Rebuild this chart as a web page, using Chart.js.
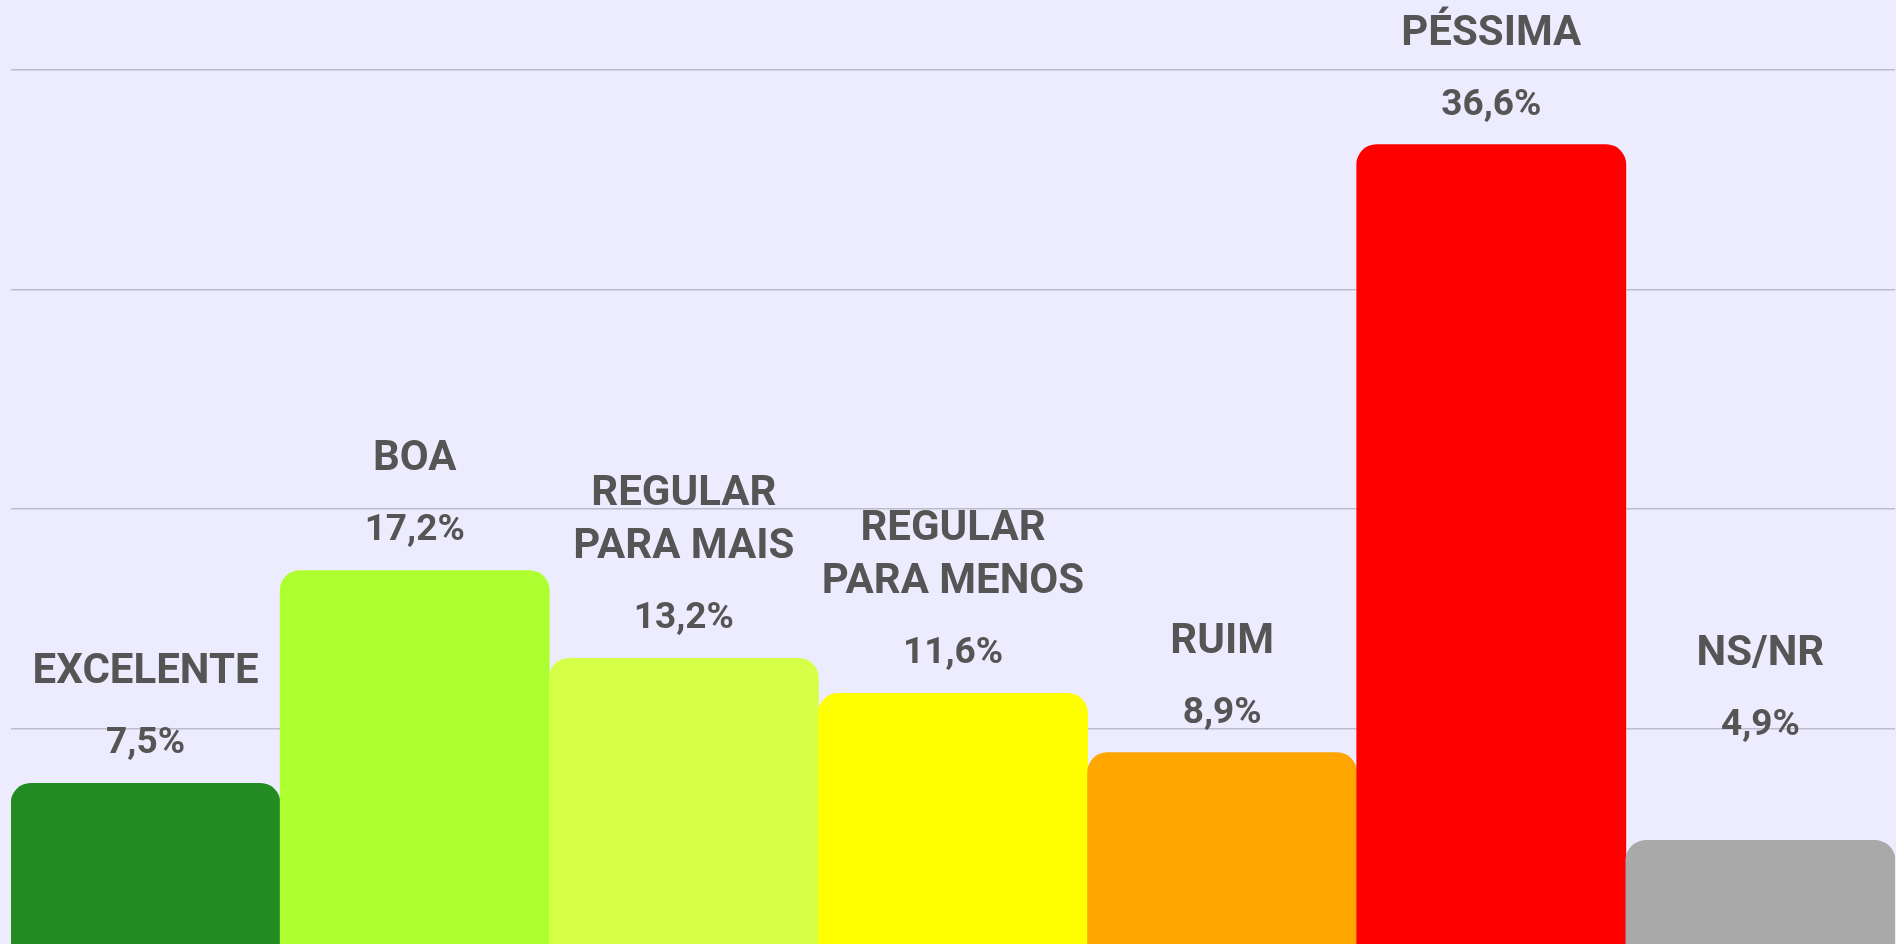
<!DOCTYPE html>
<html lang="pt-BR">
<head>
<meta charset="utf-8">
<title>Avaliação</title>
<script src="https://cdn.jsdelivr.net/npm/chart.js@4.4.1/dist/chart.umd.min.js"></script>
<style>
  html, body { margin: 0; padding: 0; overflow: hidden; background: #edecfe; }
  #wrap { position: relative; width: 1896px; height: 948px; }
</style>
</head>
<body>
<div id="wrap"><canvas id="chart"></canvas></div>
<script>
// dados
const categories = [
    ["EXCELENTE"],
    ["BOA"],
    ["REGULAR", "PARA MAIS"],
    ["REGULAR", "PARA MENOS"],
    ["RUIM"],
    ["PÉSSIMA"],
    ["NS/NR"]
];
const percentages = [7.5, 17.2, 13.2, 11.6, 8.9, 36.6, 4.9];
const barColors = ["#228b22", "#adff2f", "#d6ff47", "#ffff00", "#ffa500", "#ff0000", "#a9a9a9"];
const yTicks = [10, 20, 30, 40];

function formatPct(v) {
    return v.toFixed(1).replace(".", ",") + "%";
}

// desenha o nome e o valor acima de cada barra
const topLabels = {
    id: "topLabels",
    afterDatasetsDraw(chart, args, opts) {
        const { ctx } = chart;
        const meta = chart.getDatasetMeta(0);
        ctx.save();
        ctx.fillStyle = opts.color;
        ctx.textAlign = "center";
        ctx.textBaseline = "alphabetic";
        meta.data.forEach((bar, i) => {
            const lift = opts.lift[i] || 0;
            const valueY = bar.y - opts.valueGap - lift;
            ctx.font = opts.valueFont;
            ctx.fillText(formatPct(percentages[i]), bar.x, valueY);

            ctx.font = opts.labelFont;
            const lines = chart.data.labels[i];
            lines.forEach((line, j) => {
                const y = valueY - opts.labelGap - (lines.length - 1 - j) * opts.lineHeight;
                ctx.fillText(line, bar.x, y);
            });
        });
        ctx.restore();
    }
};

const ctx = document.getElementById("chart");

new Chart(ctx, {
    type: "bar",
    data: {
        labels: categories,
        datasets: [{
            data: percentages,
            backgroundColor: barColors,
            borderWidth: 0,
            borderRadius: { topLeft: 20, topRight: 20, bottomLeft: 0, bottomRight: 0 },
            borderSkipped: "start",
            barPercentage: 1,
            categoryPercentage: 1
        }]
    },
    options: {
        responsive: true,
        maintainAspectRatio: false,
        animation: false,
        layout: {
            padding: { top: 70, left: 11, right: 1, bottom: 0 }
        },
        plugins: {
            legend: { display: false },
            tooltip: { enabled: false },
            topLabels: {
                color: "#555555",
                labelFont: "700 42px Roboto",
                valueFont: "700 37px Roboto",
                valueGap: 30,
                labelGap: 70,
                lineHeight: 53,
                lift: { 6: 75 }
            }
        },
        scales: {
            x: {
                display: false
            },
            y: {
                min: 0,
                max: 40,
                afterBuildTicks: (axis) => {
                    axis.ticks = yTicks.map(v => ({ value: v }));
                },
                ticks: { display: false },
                border: { display: false },
                grid: {
                    color: "#bcbccc",
                    lineWidth: 1.5,
                    drawTicks: false
                }
            }
        }
    },
    plugins: [topLabels]
});
</script>
</body>
</html>
